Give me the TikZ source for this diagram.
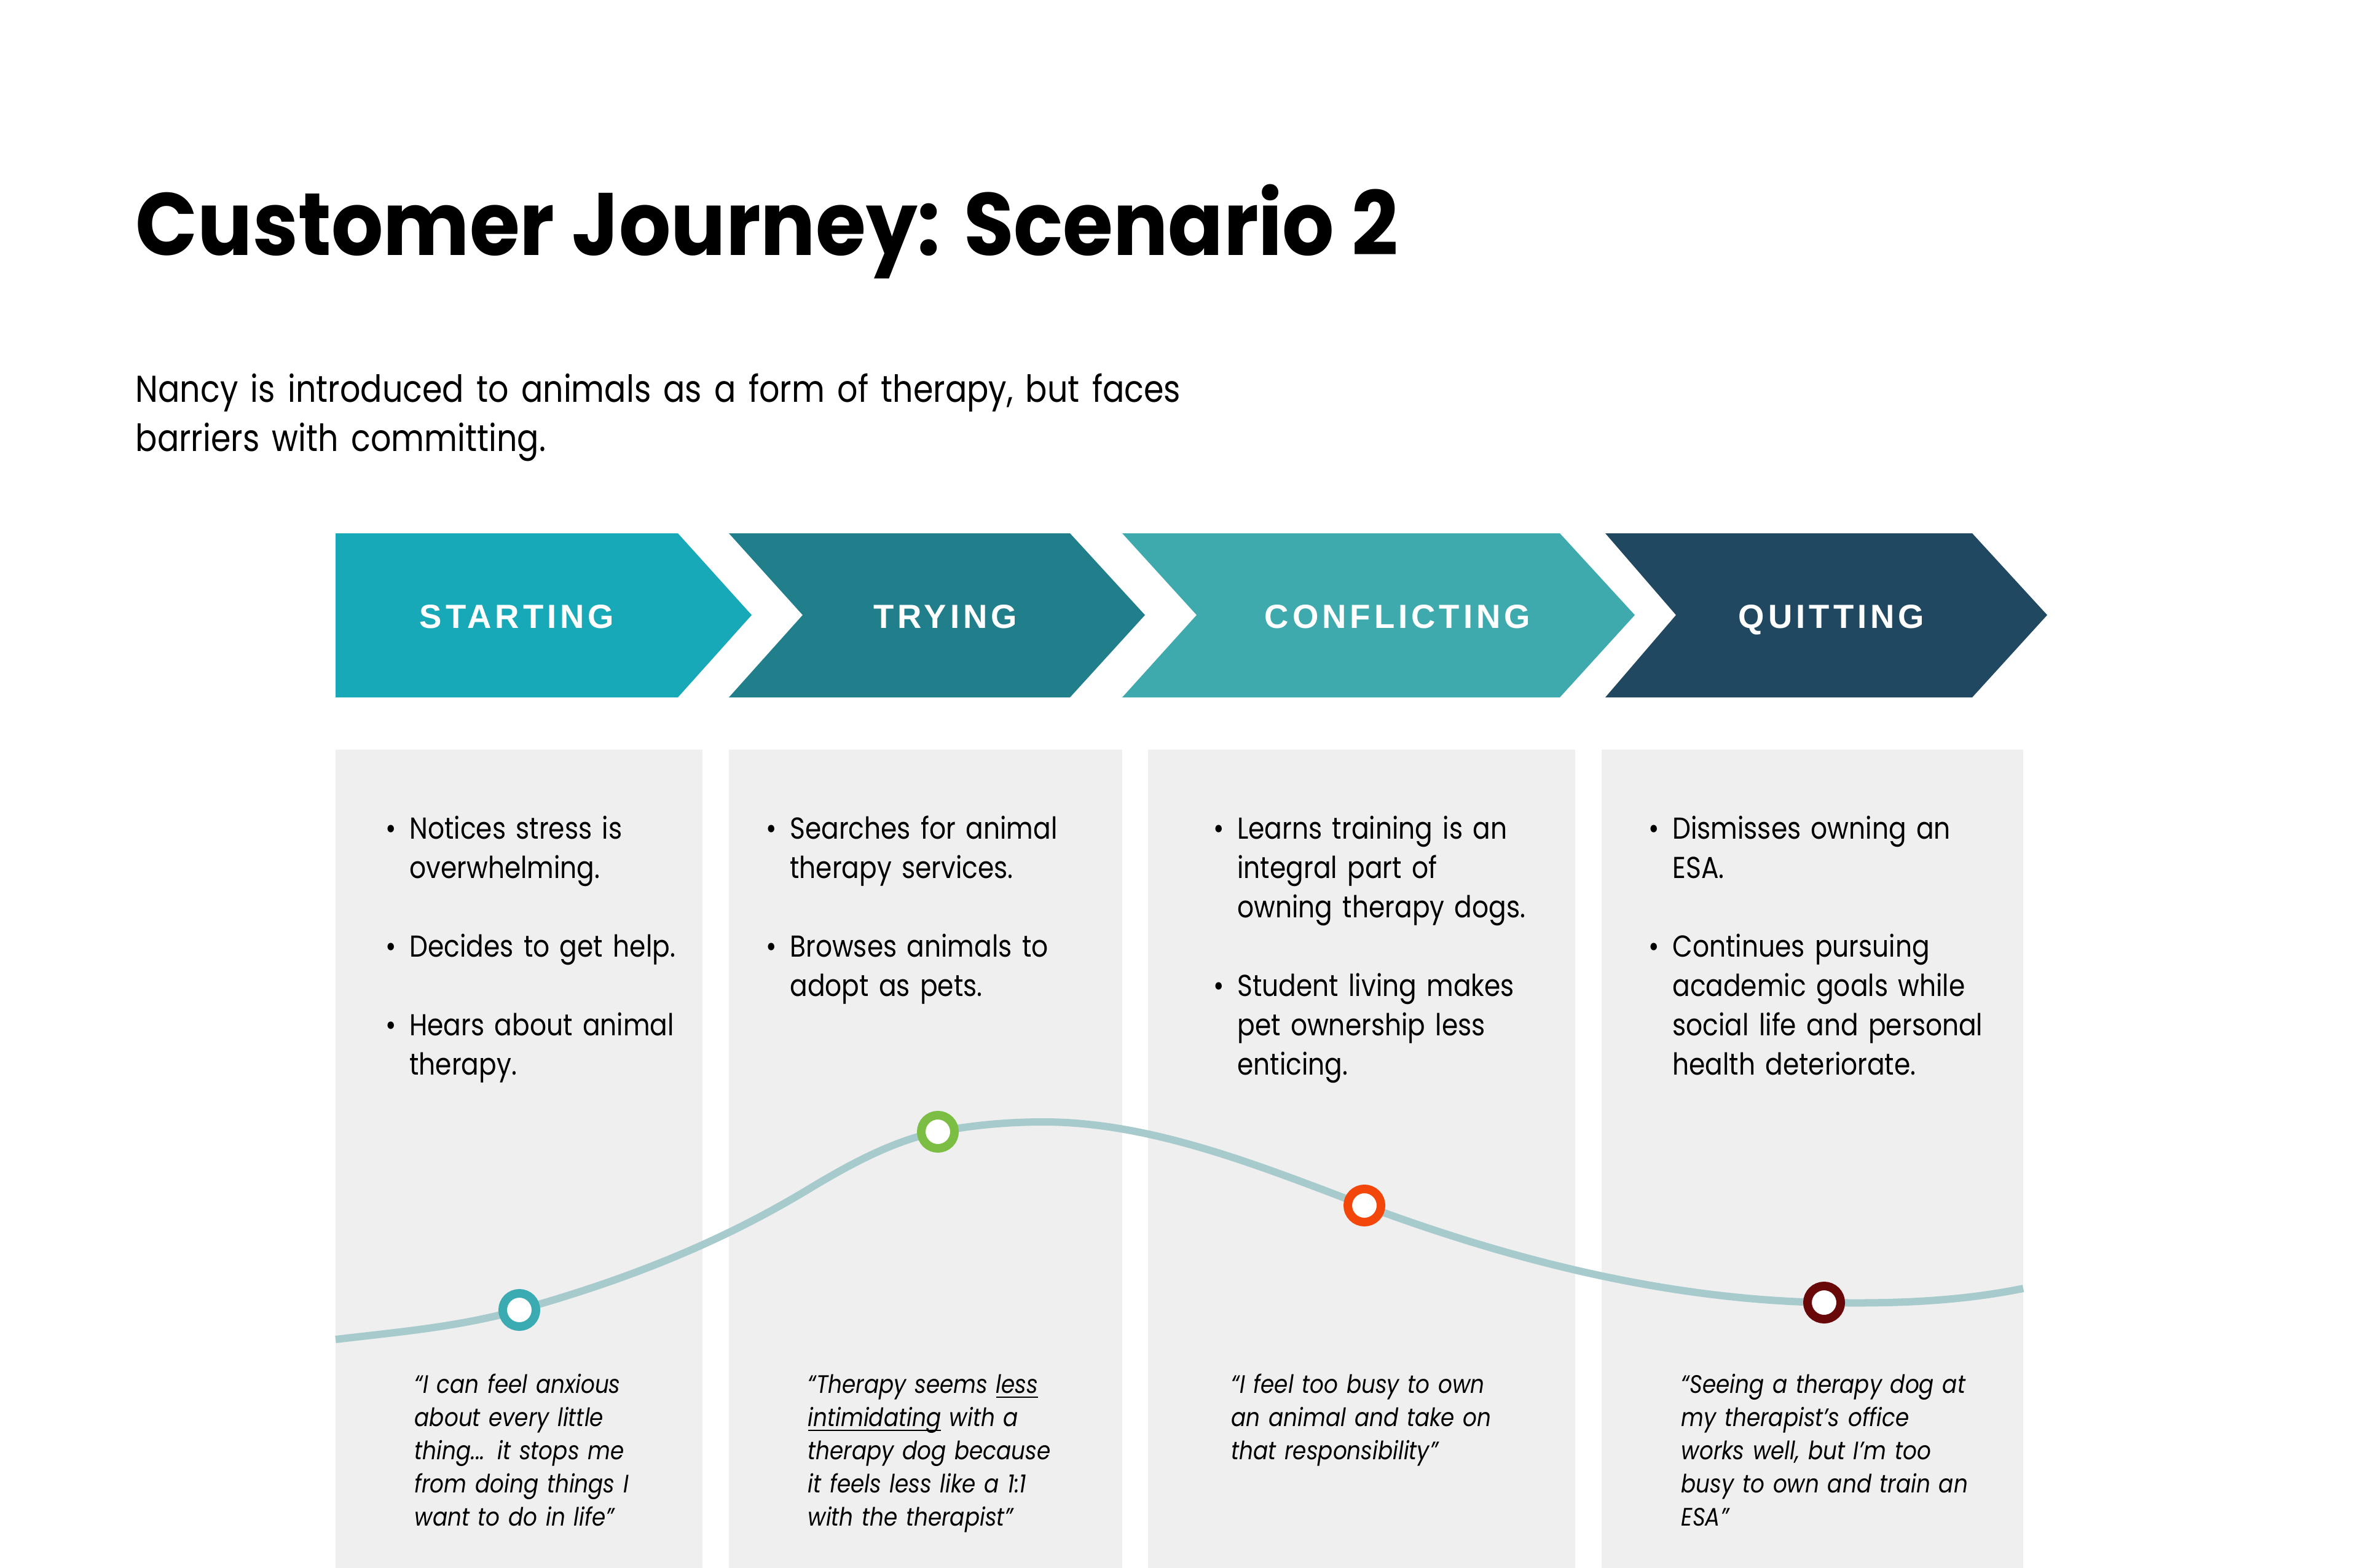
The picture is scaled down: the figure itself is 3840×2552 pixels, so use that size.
\documentclass[tikz,border=0pt]{standalone}
\usepackage{fontspec}
\usepackage{xcolor}
\setmainfont{Poppins}[
    UprightFeatures={FakeStretch=0.86},
    ItalicFeatures={FakeStretch=0.87}]
\newfontfamily\titlefont{Poppins}[FakeStretch=0.92]
\newfontfamily\stagefont{Liberation Sans}[LetterSpace=11]
\definecolor{startc}{RGB}{24,169,185}
\definecolor{tryc}{RGB}{32,127,138}
\definecolor{conflictc}{RGB}{62,170,173}
\definecolor{quitc}{RGB}{33,72,97}
\definecolor{cardgray}{RGB}{239,239,239}
\definecolor{moodline}{RGB}{167,203,205}
\definecolor{moodteal}{RGB}{58,171,176}
\definecolor{moodgreen}{RGB}{123,190,67}
\definecolor{moodorange}{RGB}{243,70,10}
\definecolor{mooddark}{RGB}{104,8,8}
\newcommand{\itembul}{\makebox[11pt][l]{\textbullet}}
\newcommand{\itemind}{\hspace*{11pt}}
\newcommand{\quoteline}[1]{\leavevmode\setbox0\hbox{#1}\rlap{\rule[-2.2pt]{\wd0}{0.6pt}}\box0\relax}
\usetikzlibrary{positioning}

\begin{document}
\begin{tikzpicture}[
    x=0.01cm,
    y=-0.01cm,
    card/.style={fill=cardgray},
    stage/.style={
        anchor=base,
        text=white,
        inner sep=0pt,
        font=\stagefont\bfseries\fontsize{15.5}{18}\selectfont
    },
    points/.style={
        anchor=base west,
        inner sep=0pt,
        text width=8cm,
        align=left,
        font=\fontsize{14}{18.2}\selectfont
    },
    quote/.style={
        anchor=base west,
        inner sep=0pt,
        text width=8cm,
        align=left,
        font=\itshape\fontsize{11.7}{15.4}\selectfont
    },
    mood/.style={
        circle,
        draw=#1,
        fill=white,
        line width=0.14cm,
        minimum size=0.54cm,
        inner sep=0pt
    },
    moodcurve/.style={draw=moodline,line width=0.12cm}
]
\fill[white] (0,0) rectangle (3840,2552);
\useasboundingbox (0,0) rectangle (3840,2552);

% heading
\node[anchor=base west,inner sep=0pt,font=\titlefont\bfseries\fontsize{41}{48}\selectfont]
  (title) at (220,416) {Customer Journey: Scenario 2};
\node[anchor=base west,inner sep=0pt,text width=20cm,align=left,
  font=\fontsize{17.3}{22.5}\selectfont] (intro) at (220,655)
  {Nancy is introduced to animals as a form of therapy, but faces\\
   barriers with committing.};

% stages
\foreach \name/\l/\n/\r/\t/\col/\lx/\txt in {
    start/546/546/1103/1223/startc/841/STARTING,
    try/1186/1306/1741/1863/tryc/1538/TRYING,
    conflict/1826/1947/2538/2660/conflictc/2274/CONFLICTING,
    quit/2612/2727/3209/3331/quitc/2980/QUITTING}
{
  \fill[\col] (\l,868) -- (\r,868) -- (\t,1001) -- (\r,1135) -- (\l,1135) -- (\n,1001) -- cycle;
  \node[stage] (\name) at (\lx,1022) {\txt};
}

% cards
\foreach \l/\r in {546/1143,1186/1826,1868/2563,2606/3292}
  \fill[card] (\l,1220) rectangle (\r,2552);

\node[points] (startpts) at (627,1365)
  {\itembul Notices stress is\\ \itemind overwhelming.\\[18.2pt]
   \itembul Decides to get help.\\[18.2pt]
   \itembul Hears about animal\\ \itemind therapy.};
\node[points] (trypts) at (1246,1365)
  {\itembul Searches for animal\\ \itemind therapy services.\\[18.2pt]
   \itembul Browses animals to\\ \itemind adopt as pets.};
\node[points] (conflictpts) at (1974,1365)
  {\itembul Learns training is an\\ \itemind integral part of\\ \itemind owning therapy dogs.\\[18.2pt]
   \itembul Student living makes\\ \itemind pet ownership less\\ \itemind enticing.};
\node[points] (quitpts) at (2682,1365)
  {\itembul Dismisses owning an\\ \itemind ESA.\\[18.2pt]
   \itembul Continues pursuing\\ \itemind academic goals while\\ \itemind social life and personal\\ \itemind health deteriorate.};

% mood curve
\coordinate (k0) at (546,2180);
\coordinate (p1) at (845,2132);
\coordinate (k1) at (1313,1937);
\coordinate (p2) at (1526,1842);
\coordinate (k2) at (1698,1826);
\coordinate (p3) at (2220,1962);
\coordinate (p4) at (2968,2120);
\coordinate (k3) at (3292,2097);
\draw[moodcurve] (k0) .. controls (646,2168) and (745,2160) .. (p1)
  .. controls (1001,2088) and (1157,2031) .. (k1)
  .. controls (1384,1894) and (1455,1856) .. (p2)
  .. controls (1583,1831) and (1641,1826) .. (k2)
  .. controls (1872,1826) and (2046,1896) .. (p3)
  .. controls (2469,2055) and (2719,2115) .. (p4)
  .. controls (3076,2122) and (3184,2119) .. (k3);
\node[mood=moodteal]   (m1) at (p1) {};
\node[mood=moodgreen]  (m2) at (p2) {};
\node[mood=moodorange] (m3) at (p3) {};
\node[mood=mooddark]   (m4) at (p4) {};

% quotes
\node[quote] (startq) at (674,2267)
  {“I can feel anxious\\ about every little\\ thing... it stops me\\ from doing things I\\ want to do in life”};
\node[quote] (tryq) at (1314,2267)
  {“Therapy seems \quoteline{less}\\ \quoteline{intimidating} with a\\ therapy dog because\\ it feels less like a 1:1\\ with the therapist”};
\node[quote] (conflictq) at (2003,2267)
  {“I feel too busy to own\\ an animal and take on\\ that responsibility”};
\node[quote] (quitq) at (2735,2267)
  {“Seeing a therapy dog at\\ my therapist’s office\\ works well, but I’m too\\ busy to own and train an\\ ESA”};
\end{tikzpicture}
\end{document}
